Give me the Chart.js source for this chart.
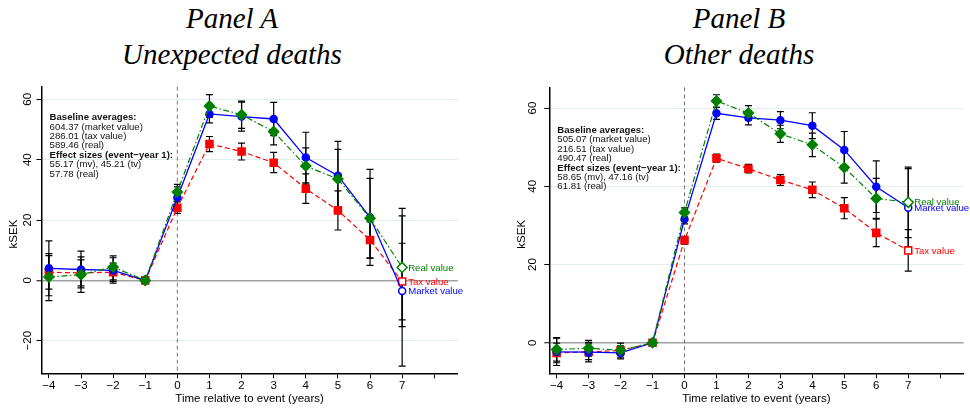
<!DOCTYPE html>
<html>
<head>
<meta charset="utf-8">
<script src="https://cdn.jsdelivr.net/npm/chart.js@4.4.1/dist/chart.umd.min.js"></script>
<style>
  body { margin: 0; background: #fff; width: 970px; height: 410px; position: relative; overflow: hidden; }
  canvas { position: absolute; top: 0; }
  .title {
    position: absolute; top: 0; width: 300px; text-align: center;
    font-family: "Liberation Serif", serif; font-style: italic;
    font-size: 29px; line-height: 36px; color: #000;
  }
</style>
</head>
<body>
<div class="title" style="left:82px">Panel A<br>Unexpected deaths</div>
<div class="title" style="left:589px">Panel B<br>Other deaths</div>
<canvas id="chartA" width="485" height="410" style="left:0"></canvas>
<canvas id="chartB" width="485" height="410" style="left:485px"></canvas>
<script>
// event time and axis ticks
const years = [-4, -3, -2, -1, 0, 1, 2, 3, 4, 5, 6, 7];
const xTicks = [-4, -3, -2, -1, 0, 1, 2, 3, 4, 5, 6, 7, 8];
const yTicksA = [-20, 0, 20, 40, 60];
const yTicksB = [0, 20, 40, 60];

// Panel A - unexpected deaths (kSEK)
const mvA   = [4.0, 3.6, 3.3, 0, 27.5, 55.17, 54.3, 53.5, 40.7, 34.7, 20.9, -3.5];
const mvLoA = [-5.1, -2.5, -0.9, 0, 24.0, 52.2, 49.5, 48.0, 32.3, 23.3, 5.0, -28.4];
const mvHiA = [13.1, 9.7, 7.5, 0, 31.0, 58.2, 59.1, 59.0, 49.1, 46.1, 36.8, 21.4];
const tvA   = [2.7, 2.5, 2.7, 0, 24.1, 45.21, 42.7, 39.0, 30.4, 23.2, 13.4, -0.4];
const tvLoA = [-2.9, -1.8, -0.3, 0, 22.2, 42.7, 39.9, 35.7, 25.5, 16.7, 7.4, -13.1];
const tvHiA = [8.2, 6.8, 5.7, 0, 26.0, 47.7, 45.5, 42.4, 35.3, 29.7, 19.4, 12.3];
const rvA   = [1.1, 1.9, 4.4, 0, 29.3, 57.78, 54.9, 49.3, 37.9, 33.6, 20.6, 4.3];
const rvLoA = [-6.7, -4.0, 0.2, 0, 26.8, 54.0, 50.4, 44.9, 31.9, 23.4, 7.4, -15.3];
const rvHiA = [8.9, 7.8, 8.1, 0, 31.8, 61.6, 59.4, 53.7, 43.9, 43.4, 33.8, 23.9];
const noteA = ["Baseline averages:", "604.37 (market value)", "286.01 (tax value)", "589.46 (real)",
               "Effect sizes (event\u2212year 1):", "55.17 (mv), 45.21 (tv)", "57.78 (real)"];

// Panel B - other deaths (kSEK)
const mvB   = [-2.3, -2.4, -2.6, 0, 31.6, 58.65, 57.5, 56.9, 55.5, 49.3, 39.9, 34.5];
const mvLoB = [-5.8, -4.9, -4.1, 0, 30.4, 57.1, 55.7, 54.7, 52.2, 44.6, 33.3, 24.5];
const mvHiB = [1.2, 0.1, -1.1, 0, 32.8, 60.2, 59.3, 59.1, 58.8, 54.0, 46.5, 44.5];
const tvB   = [-2.6, -2.3, -2.0, 0, 26.2, 47.16, 44.5, 41.6, 39.1, 34.4, 28.1, 23.6];
const tvLoB = [-5.1, -4.3, -3.2, 0, 25.2, 46.2, 43.4, 40.2, 37.1, 31.7, 24.6, 18.3];
const tvHiB = [-0.1, -0.3, -0.8, 0, 27.2, 48.2, 45.6, 43.0, 41.1, 37.1, 31.6, 28.9];
const rvB   = [-1.7, -1.4, -1.9, 0, 33.3, 61.81, 58.7, 53.4, 50.6, 44.8, 36.9, 35.9];
const rvLoB = [-4.7, -3.4, -3.7, 0, 32.1, 60.2, 56.9, 51.2, 47.6, 40.8, 31.8, 26.9];
const rvHiB = [1.3, 0.6, -0.1, 0, 34.5, 63.4, 60.6, 55.6, 53.6, 48.8, 42.0, 44.9];
const noteB = ["Baseline averages:", "505.07 (market value)", "216.51 (tax value)", "490.47 (real)",
               "Effect sizes (event\u2212year 1):", "58.65 (mv), 47.16 (tv)", "61.81 (real)"];

const SANS = "'Liberation Sans', Arial, sans-serif";
const BLUE = "#0000ff", RED = "#ff0000", GREEN = "#008000";

function fmt(v) {
  return v < 0 ? "\u2212" + Math.abs(v) : String(v);
}

function pts(values) {
  return values.map((v, i) => ({ x: years[i], y: v }));
}

function hollowLast(values, color) {
  return values.map((v, i) => i === values.length - 1 ? "#fff" : color);
}

// extra drawing: error bars, event line, rotated y labels, titles, notes, end labels
function extras(cfg) {
  return {
    id: "extras",
    beforeDatasetsDraw(chart) {
      const ctx = chart.ctx, xs = chart.scales.x, ys = chart.scales.y, area = chart.chartArea;
      ctx.save();
      // dashed line at event time
      let x0 = xs.getPixelForValue(0);
      ctx.strokeStyle = "#777";
      ctx.lineWidth = 1;
      ctx.setLineDash([4, 3]);
      ctx.beginPath();
      ctx.moveTo(x0, area.top);
      ctx.lineTo(x0, area.bottom);
      ctx.stroke();
      ctx.setLineDash([]);
      // confidence intervals
      ctx.strokeStyle = "#000";
      ctx.lineWidth = 1.2;
      cfg.bands.forEach(b => {
        years.forEach((yr, i) => {
          if (b.lo[i] === b.hi[i]) return;
          let px = xs.getPixelForValue(yr);
          let lo = ys.getPixelForValue(b.lo[i]);
          let hi = ys.getPixelForValue(b.hi[i]);
          ctx.beginPath();
          ctx.moveTo(px, lo); ctx.lineTo(px, hi);
          ctx.moveTo(px - 3.5, lo); ctx.lineTo(px + 3.5, lo);
          ctx.moveTo(px - 3.5, hi); ctx.lineTo(px + 3.5, hi);
          ctx.stroke();
        });
      });
      ctx.restore();
    },
    afterDatasetsDraw(chart) {
      const ctx = chart.ctx, xs = chart.scales.x, ys = chart.scales.y, area = chart.chartArea;
      ctx.save();
      ctx.fillStyle = "#000";
      ctx.font = "11.5px " + SANS;
      ctx.textAlign = "center";
      ctx.textBaseline = "middle";
      // y tick labels, rotated like the original
      cfg.yTicks.forEach(v => {
        ctx.save();
        ctx.translate(area.left - cfg.tickGap, ys.getPixelForValue(v));
        ctx.rotate(-Math.PI / 2);
        ctx.fillText(fmt(v), 0, 0);
        ctx.restore();
      });
      // axis titles
      ctx.save();
      ctx.translate(area.left - cfg.titleGap, (area.top + area.bottom) / 2 + 4);
      ctx.rotate(-Math.PI / 2);
      ctx.fillText("kSEK", 0, 0);
      ctx.restore();
      ctx.fillText("Time relative to event (years)", (area.left + area.right) / 2, 399);

      // note box
      ctx.textAlign = "left";
      ctx.textBaseline = "alphabetic";
      let nx = xs.getPixelForValue(-4) + 0.7;
      let ny = ys.getPixelForValue(55.4) + 7;
      cfg.note.forEach((line, i) => {
        let bold = i === 0 || i === 4;
        ctx.font = (bold ? "bold " : "") + "9.6px " + SANS;
        ctx.fillStyle = "#111";
        ctx.fillText(line, nx, ny + i * 9.4);
      });

      // end-of-line labels
      ctx.font = "9.6px " + SANS;
      ctx.textBaseline = "middle";
      chart.data.datasets.forEach(ds => {
        let last = ds.data[ds.data.length - 1];
        ctx.fillStyle = ds.borderColor;
        ctx.fillText(ds.label, xs.getPixelForValue(last.x) + 6, ys.getPixelForValue(last.y) + 0.5);
      });
      ctx.restore();
    }
  };
}

function makePanel(id, cfg) {
  new Chart(document.getElementById(id), {
    type: "line",
    data: {
      datasets: [
        {
          label: "Real value", data: pts(cfg.rv), borderColor: GREEN, borderWidth: 1.2,
          borderDash: [6, 2.5, 1.5, 2.5], pointStyle: "rectRot", pointRadius: 5,
          pointBackgroundColor: hollowLast(cfg.rv, GREEN), pointBorderColor: GREEN, pointBorderWidth: 1.5
        },
        {
          label: "Market value", data: pts(cfg.mv), borderColor: BLUE, borderWidth: 1.3,
          pointStyle: "circle", pointRadius: 3.5,
          pointBackgroundColor: hollowLast(cfg.mv, BLUE), pointBorderColor: BLUE, pointBorderWidth: 1.5
        },
        {
          label: "Tax value", data: pts(cfg.tv), borderColor: RED, borderWidth: 1.2,
          borderDash: [5, 3], pointStyle: "rect", pointRadius: 5,
          pointBackgroundColor: hollowLast(cfg.tv, RED), pointBorderColor: RED, pointBorderWidth: 1.5
        }
      ]
    },
    options: {
      responsive: false,
      animation: false,
      layout: { padding: { left: 0, right: cfg.padRight, top: cfg.padTop, bottom: 0 } },
      plugins: { legend: { display: false }, tooltip: { enabled: false } },
      scales: {
        x: {
          type: "linear", min: -4.23, max: 8.73,
          afterBuildTicks: s => { s.ticks = xTicks.map(v => ({ value: v })); },
          afterFit: s => { s.height = 36.7; },
          grid: { drawOnChartArea: false, tickLength: 5, tickColor: "#000", tickWidth: 1 },
          border: { color: "#000", width: 1.5 },
          ticks: {
            padding: 1, color: "#000", autoSkip: false, maxRotation: 0,
            font: { family: SANS, size: 11.5 },
            callback: v => v === 8 ? "" : fmt(v)
          }
        },
        y: {
          min: cfg.yMin, max: cfg.yMax,
          afterBuildTicks: s => { s.ticks = cfg.yTicks.map(v => ({ value: v })); },
          afterFit: s => { s.width = cfg.axisLeft; },
          grid: {
            color: c => c.tick && c.tick.value === 0 ? "#a0a0a0" : "#e3ecef",
            lineWidth: c => c.tick && c.tick.value === 0 ? 1.5 : 1,
            tickLength: 5, tickColor: "#000", tickWidth: 1
          },
          border: { color: "#000", width: 1.5 },
          ticks: { display: false }
        }
      }
    },
    plugins: [extras(cfg)]
  });
}

makePanel("chartA", {
  mv: mvA, tv: tvA, rv: rvA,
  bands: [{ lo: mvLoA, hi: mvHiA }, { lo: tvLoA, hi: tvHiA }, { lo: rvLoA, hi: rvHiA }],
  note: noteA, yTicks: yTicksA, yMin: -30.8, yMax: 64.2,
  axisLeft: 41.5, padRight: 27.3, padTop: 86.7, tickGap: 13.3, titleGap: 28
});

makePanel("chartB", {
  mv: mvB, tv: tvB, rv: rvB,
  bands: [{ lo: mvLoB, hi: mvHiB }, { lo: tvLoB, hi: tvHiB }, { lo: rvLoB, hi: rvHiB }],
  note: noteB, yTicks: yTicksB, yMin: -7.8, yMax: 65.3,
  axisLeft: 64.3, padRight: 4.3, padTop: 87.3, tickGap: 16.3, titleGap: 27.6
});
</script>
</body>
</html>
